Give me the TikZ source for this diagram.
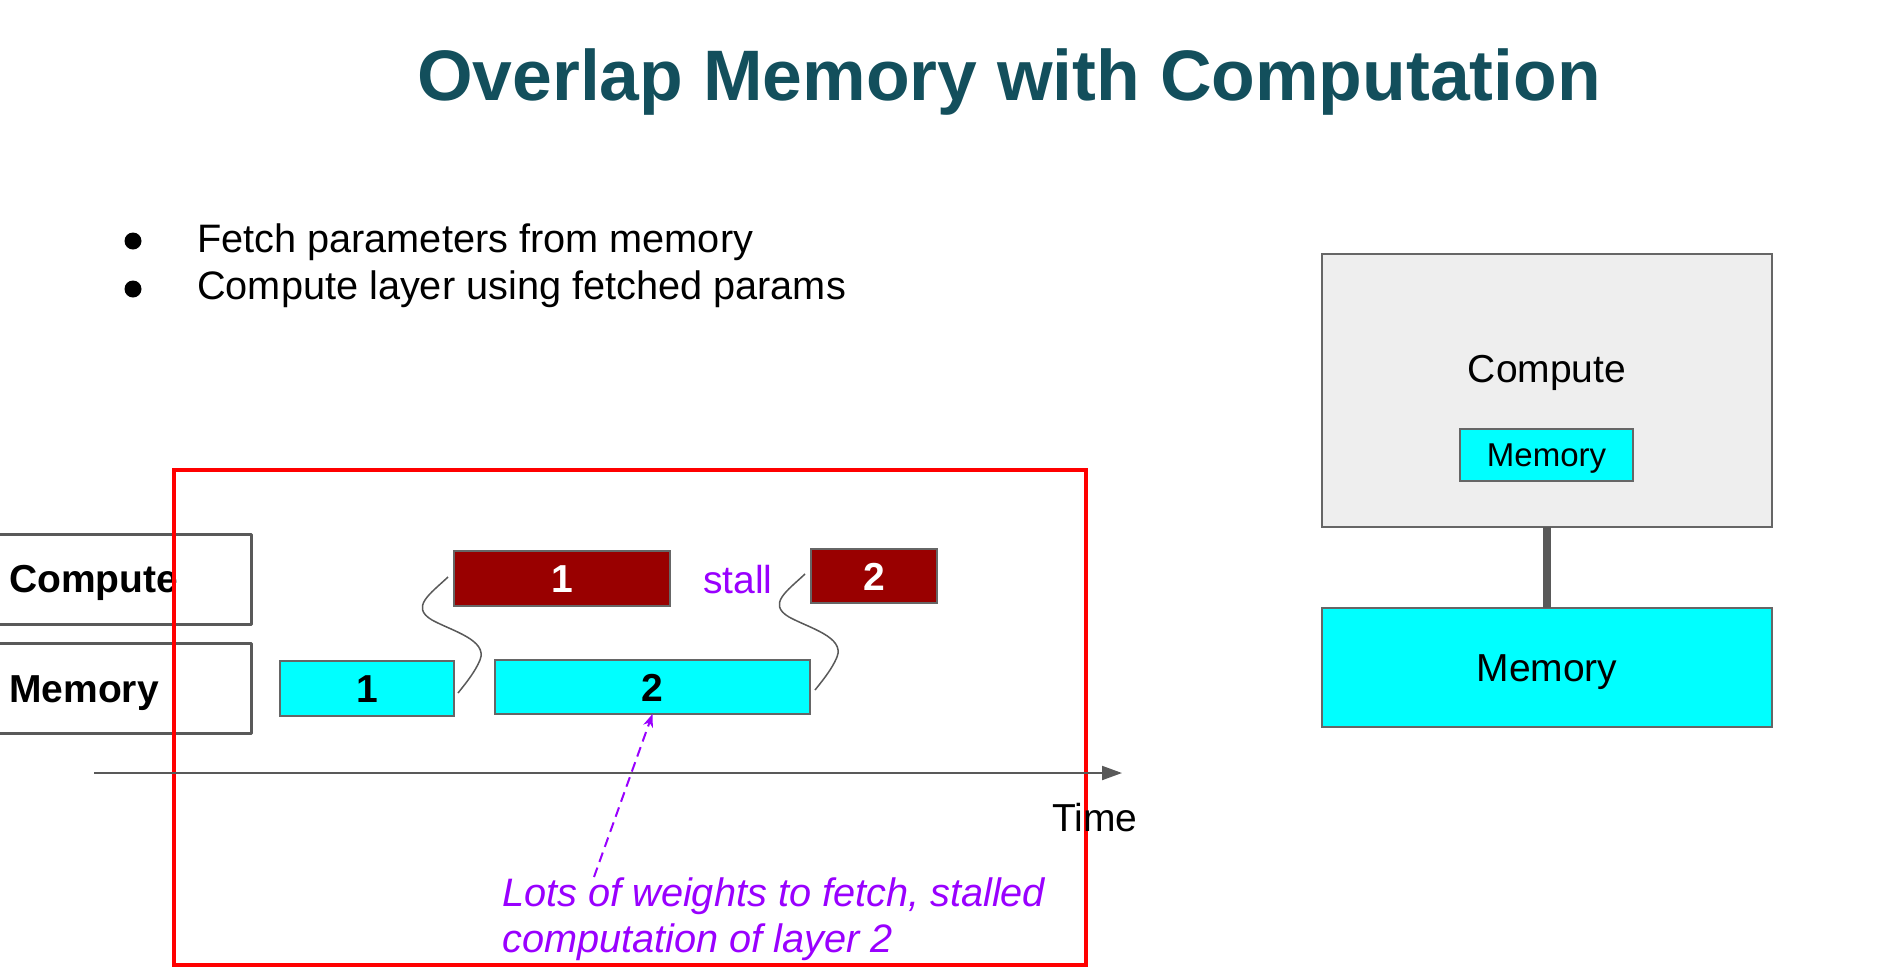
\documentclass[tikz,border=0pt]{standalone}
\usepackage{fontspec}
\setmainfont{Liberation Sans}
\usetikzlibrary{arrows.meta}
\definecolor{titleC}{HTML}{134F5C}
\definecolor{lineC}{HTML}{595959}
\definecolor{boxC}{HTML}{666666}
\definecolor{cyanC}{HTML}{00FFFF}
\definecolor{darkredC}{HTML}{990000}
\definecolor{purpC}{HTML}{9900FF}
\definecolor{lightC}{HTML}{EEEEEE}
\newcommand{\fsz}[2]{\fontsize{#1}{#2}\selectfont}
\begin{document}
\begin{tikzpicture}[x=1pt,y=-1pt,
  box/.style={draw=boxC, line width=1.5pt, inner sep=0pt, outer sep=0pt, anchor=north west},
  membox/.style={box, fill=cyanC},
  compbox/.style={box, fill=darkredC, text=white},
  lblbox/.style={draw=lineC, line width=3pt, line join=round, inner sep=0pt, anchor=north west},
  num/.style={font=\bfseries\fsz{39}{47}, text height=28pt, text depth=0pt},
  txt/.style={font=\fsz{39}{47}, inner sep=0pt},
  squig/.style={draw=lineC, line width=1.5pt},
]
\useasboundingbox (0,0) rectangle (1881,975);

% title
\node[anchor=base, inner sep=0pt, text=titleC, font=\bfseries\fsz{71.5}{86}] (title) at (1009,100) {Overlap Memory with Computation};

% bullets
\fill (133,241) circle (8.5pt);
\fill (133,289) circle (8.5pt);
\node[anchor=base west, inner sep=0pt, font=\fsz{39.7}{48}] (b1) at (197,252) {Fetch parameters from memory};
\node[anchor=base west, inner sep=0pt, font=\fsz{39.7}{48}] (b2) at (197,299) {Compute layer using fetched params};

% left row labels
\node[lblbox, minimum width=260pt, minimum height=90pt] (lc) at (-10,533) {};
\node[lblbox, minimum width=260pt, minimum height=90pt] (lm) at (-10,642) {};
\node[anchor=base west, inner sep=0pt, font=\bfseries\fsz{39}{47}] (lct) at (9,592) {Compute};
\node[anchor=base west, inner sep=0pt, font=\bfseries\fsz{39}{47}] (lmt) at (9,702) {Memory};

% red focus box
\node[draw=red, line width=3.5pt, inner sep=0pt, anchor=north west, minimum width=912pt, minimum height=495pt] (focus) at (172,468) {};

% timeline boxes
\node[membox, minimum width=174pt, minimum height=55pt, num] (m1) at (280,661) {1};
\node[membox, minimum width=315pt, minimum height=54pt, num] (m2) at (495,660) {2};
\node[compbox, minimum width=216pt, minimum height=55pt, num] (c1) at (454,551) {1};
\node[compbox, minimum width=126pt, minimum height=54pt, num] (c2) at (811,549) {2};

\node[txt, anchor=base west, text=purpC] (stall) at (703,593) {stall};

% s-curves
\coordinate (s1a) at (448,577);
\coordinate (s1b) at (458,693);
\coordinate (s2a) at (805,574);
\coordinate (s2b) at (815,690);
\draw[squig] (s1a) .. controls (430,594) and (410,607) .. (432,620)
  .. controls (452,631) and (488,640) .. (480,660)
  .. controls (475,672) and (466,683) .. (s1b);
\draw[squig] (s2a) .. controls (787,591) and (767,604) .. (789,617)
  .. controls (809,628) and (845,637) .. (837,657)
  .. controls (832,669) and (823,680) .. (s2b);

% time axis
\coordinate (t0) at (94,773);
\coordinate (t1) at (1122,773);
\draw[lineC, line width=2pt, -{Triangle[length=20pt,width=14pt]}] (t0) -- (t1);
\node[txt, anchor=base west] (time) at (1052,831) {Time};

% annotation
\node[txt, anchor=base west, text=purpC, font=\itshape\fsz{39.7}{47}] (n1) at (502,906) {Lots of weights to fetch, stalled};
\node[txt, anchor=base west, text=purpC, font=\itshape\fsz{39.7}{47}] (n2) at (502,952) {computation of layer 2};
\coordinate (ws) at (594,877);
\draw[purpC, line width=2pt, dash pattern=on 10pt off 6pt, -{Stealth[length=13pt,width=10pt,inset=4pt]}] (ws) -- (m2.south);

% right hierarchy
\node[box, fill=lightC, minimum width=450pt, minimum height=273pt] (bc) at (1322,254) {};
\node[txt, anchor=base] (bct) at (1547,382) {Compute};
\node[membox, minimum width=173pt, minimum height=52pt, font=\fsz{33}{40}, text height=23.6pt, text depth=0pt] (bcm) at (1460,429) {Memory};
\node[membox, minimum width=450pt, minimum height=119pt, font=\fsz{39}{47}, text height=28pt, text depth=0pt] (bm) at (1322,608) {Memory};
\draw[lineC, line width=8pt] (bc.south) -- (bm.north);
\end{tikzpicture}
\end{document}
